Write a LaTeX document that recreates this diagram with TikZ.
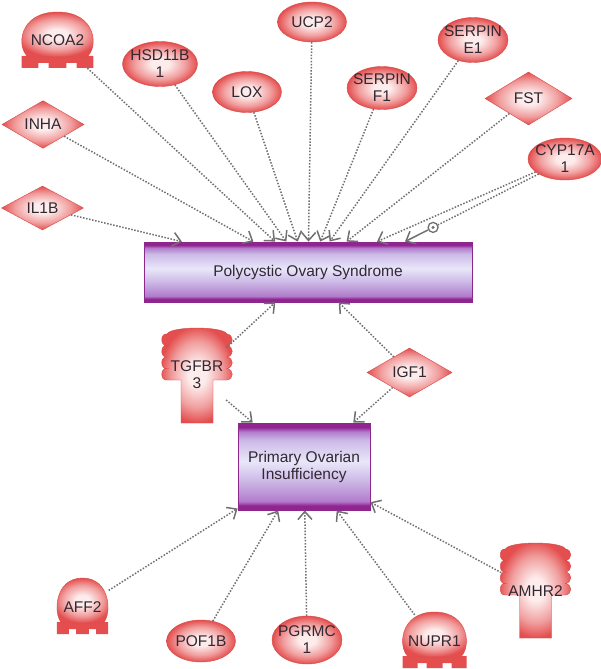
\documentclass[tikz,border=0pt]{standalone}
\usepackage{fontspec}
\setmainfont{Liberation Sans}
\usetikzlibrary{shapes.geometric,arrows.meta}
\definecolor{genered}{RGB}{228,78,78}
\definecolor{genemid}{RGB}{241,158,158}
\definecolor{genelight}{RGB}{253,236,236}
\definecolor{geneline}{RGB}{216,72,72}
\definecolor{boxline}{RGB}{140,40,140}
\definecolor{boxdark}{RGB}{146,36,146}
\definecolor{boxmid}{RGB}{178,124,204}
\definecolor{boxpale}{RGB}{204,186,230}
\definecolor{boxlight}{RGB}{233,231,250}
\definecolor{linkgray}{RGB}{112,112,112}
\definecolor{labeltext}{RGB}{50,40,50}
\pgfdeclareradialshading{genefill}{\pgfpoint{0bp}{0bp}}{color(0bp)=(genelight); color(6bp)=(genelight); color(17bp)=(genemid); color(25bp)=(genered); color(50bp)=(genered)}
\pgfdeclareverticalshading{boxfill}{100bp}{color(0bp)=(boxdark); color(25bp)=(boxdark); color(27.5bp)=(boxdark); color(30bp)=(boxmid); color(42bp)=(boxpale); color(53bp)=(boxlight); color(65bp)=(boxpale); color(70bp)=(boxmid); color(72.5bp)=(boxdark); color(75bp)=(boxdark); color(100bp)=(boxdark)}
\tikzset{
  every node/.style={font=\fontsize{15.5}{17}\selectfont, text=labeltext, align=center},
  gene/.style={ellipse, shade, shading=genefill, draw=geneline, line width=0.4pt, inner xsep=-6pt, inner ysep=0pt, minimum width=70pt, minimum height=43pt},
  ligand/.style={diamond, shade, shading=genefill, draw=geneline, line width=0.4pt, inner sep=0pt, minimum width=84pt, minimum height=46pt},
  disease/.style={rectangle, shade, shading=boxfill, draw=boxline, line width=0.8pt, inner sep=0pt},
  slot/.style={inner sep=0pt},
  rel/.style={draw=linkgray, line width=1.5pt, dash pattern=on 1.5pt off 1.6pt, -{Straight Barb[length=8pt,width=14pt]}},
  mod/.style={draw=linkgray, line width=1.5pt, -{Straight Barb[length=8pt,width=14pt]}},
  ring/.style={circle, draw=linkgray, line width=1.3pt, fill=white, inner sep=0pt, minimum size=10pt, path picture={\fill[linkgray] (path picture bounding box.center) circle (1.7pt);}},
  receptor/.pic={
    \shade[shading=genefill, draw=geneline, line width=0.4pt] (-16,95) -- (-16,52) -- (-30,52)
      .. controls +(-7,1) and +(-7,-1) .. ++(0,-11.5)
      .. controls +(-7,1) and +(-7,-1) .. ++(0,-11.5)
      .. controls +(-7,1) and +(-7,-1) .. ++(0,-11.5)
      .. controls +(-7,1) and +(-7,-1) .. ++(0,-11.5)
      .. controls (-26,-2) and (26,-2) .. (30,6)
      .. controls +(7,1) and +(7,-1) .. ++(0,11.5)
      .. controls +(7,1) and +(7,-1) .. ++(0,11.5)
      .. controls +(7,1) and +(7,-1) .. ++(0,11.5)
      .. controls +(7,1) and +(7,-1) .. ++(0,11.5)
      -- (16,52) -- (16,95) -- cycle;
  },
  plug/.pic={
    \fill[genered] (-32,-12) -- (32,-12) -- (32,0) -- (17,0) -- (17,-5) -- (8,-5) -- (8,0)
      -- (-8,0) -- (-8,-5) -- (-17,-5) -- (-17,0) -- (-32,0) -- cycle;
    \shade[shading=genefill, draw=geneline, line width=0.4pt] (-26,-11)
      .. controls (-37,-20) and (-35,-56) .. (0,-56)
      .. controls (35,-56) and (37,-20) .. (26,-11) -- cycle;
  }
}
\begin{document}
\begin{tikzpicture}[x=1pt,y=-1pt]
  \useasboundingbox[fill=white] (0,0) rectangle (600,669);

  \node[disease, minimum width=328pt, minimum height=60pt] (pcos) at (308,272) {Polycystic Ovary Syndrome};
  \node[disease, minimum width=132pt, minimum height=87pt] (poi) at (304,466.5) {Primary Ovarian\\Insufficiency};

  \pic[xscale=1.12] at (57.5,68) {plug};
  \pic[xscale=0.8] at (82.5,634) {plug};
  \pic at (434.5,668) {plug};
  \pic at (197,328) {receptor};
  \pic at (535.5,543) {receptor};

  \node[slot, minimum width=75pt, minimum height=55pt] (ncoa) at (57.5,40.5) {NCOA2};
  \node[slot, minimum width=52pt, minimum height=54pt] (aff) at (82.5,607) {AFF2};
  \node[slot, minimum width=64pt, minimum height=53pt] (nupr) at (434.5,641.5) {NUPR1};
  \node[slot, minimum width=58pt, minimum height=80pt] (tgfbr) at (197,375) {TGFBR\\3};
  \node[slot, minimum width=68pt, minimum height=96pt] (amhr) at (535.5,591) {AMHR2};

  \node[gene, minimum width=75pt, minimum height=45pt] (hsd) at (160,64) {HSD11B\\1};
  \node[gene, minimum width=69pt, minimum height=41pt] (lox) at (247,92) {LOX};
  \node[gene, minimum width=69pt, minimum height=40pt] (ucp) at (312,22) {UCP2};
  \node[gene] (serpf) at (382,88) {SERPIN\\F1};
  \node[gene, minimum height=45pt] (serpe) at (473,40) {SERPIN\\E1};
  \node[gene, minimum width=74pt, minimum height=42pt] (cyp) at (565,159) {CYP17A\\1};
  \node[gene, minimum width=69pt, minimum height=42pt] (pof) at (201,641) {POF1B};
  \node[gene, minimum height=48pt] (pgrmc) at (307,640) {PGRMC\\1};

  \node[ligand, minimum width=82pt, minimum height=40pt] (inha) at (43,124.5) {INHA};
  \node[ligand, minimum width=82pt, minimum height=44pt] (il1b) at (42.5,208) {IL1B};
  \node[ligand, minimum width=87pt, minimum height=53pt] (fst) at (528.5,98.5) {FST};
  \node[ligand, minimum width=85pt, minimum height=49pt] (igf) at (409.5,372.5) {IGF1};

  \draw[rel] (il1b) -- (pcos);
  \draw[rel] (inha) -- (pcos);
  \draw[rel] (ncoa) -- (pcos);
  \draw[rel] (hsd) -- (pcos);
  \draw[rel] (lox) -- (pcos);
  \draw[rel] (ucp) -- (pcos);
  \draw[rel] (serpf) -- (pcos);
  \draw[rel] (serpe) -- (pcos);
  \draw[rel] (fst) -- (pcos);
  \draw[rel] (cyp) -- (pcos);
  \draw[rel] (tgfbr) -- (pcos);
  \draw[rel] (igf) -- (pcos);

  \path (cyp.south west) -- coordinate[pos=0.79] (cypmark) ([xshift=97pt]pcos.north) coordinate (cypend);
  \node[ring] (ring) at (cypmark) {};
  \draw[rel, -] (cyp.south west) -- (ring);
  \draw[mod] (ring) -- (cypend);

  \draw[rel] (tgfbr) -- (poi);
  \draw[rel] (igf) -- (poi);
  \draw[rel] (aff) -- (poi);
  \draw[rel] (pof) -- (poi);
  \draw[rel] (pgrmc) -- (poi);
  \draw[rel] (nupr) -- (poi);
  \draw[rel] (amhr) -- (poi);
\end{tikzpicture}
\end{document}
